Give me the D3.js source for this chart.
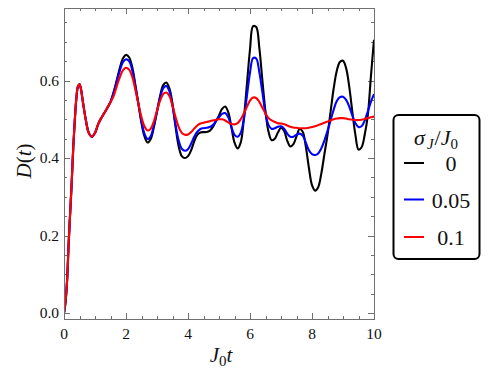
<!DOCTYPE html>
<html>
<head>
<meta charset="utf-8">
<script src="https://cdn.jsdelivr.net/npm/d3@7"></script>
<style>
  body { margin: 0; background: #fff; }
  svg { display: block; }
</style>
</head>
<body>
<svg width="493" height="376" font-family="'Liberation Serif', 'DejaVu Serif', serif"></svg>
<script>
// time grid J0 t
var times = [0, 0.05, 0.1, 0.15, 0.2, 0.25, 0.3, 0.35, 0.4, 0.45, 0.5, 0.55,
    0.6, 0.7, 0.8, 0.9, 1.0, 1.1, 1.2, 1.3, 1.4, 1.5, 1.6, 1.7, 1.8, 1.9,
    2.0, 2.1, 2.2, 2.3, 2.4, 2.5, 2.6, 2.7, 2.8, 2.9, 3.0, 3.1, 3.2, 3.3, 3.4,
    3.5, 3.6, 3.7, 3.8, 3.9, 4.0, 4.1, 4.2, 4.3, 4.4, 4.5, 4.6, 4.7, 4.8, 4.9,
    5.0, 5.1, 5.2, 5.3, 5.4, 5.5, 5.6, 5.7, 5.8, 5.9, 6.0, 6.1, 6.2, 6.3, 6.4,
    6.5, 6.6, 6.7, 6.8, 6.9, 7.0, 7.1, 7.2, 7.3, 7.4, 7.5, 7.6, 7.7, 7.8, 7.9,
    8.0, 8.1, 8.2, 8.3, 8.4, 8.5, 8.6, 8.7, 8.8, 8.9, 9.0, 9.1, 9.2, 9.3, 9.4,
    9.5, 9.6, 9.7, 9.8, 9.9, 10.0];

// sigma_J / J0 = 0
var dSigma0 = [0, 0.03, 0.085, 0.18, 0.26, 0.34, 0.43, 0.5, 0.555, 0.585, 0.59, 0.577,
    0.55, 0.5, 0.465, 0.455, 0.465, 0.487, 0.503, 0.516, 0.53, 0.545, 0.57, 0.6, 0.632, 0.657,
    0.666, 0.66, 0.635, 0.59, 0.54, 0.49, 0.455, 0.44, 0.45, 0.48, 0.52, 0.56, 0.588, 0.595, 0.58,
    0.54, 0.48, 0.43, 0.405, 0.4, 0.405, 0.42, 0.443, 0.46, 0.466, 0.467, 0.467, 0.47, 0.48, 0.495,
    0.51, 0.527, 0.533, 0.518, 0.48, 0.44, 0.425, 0.44, 0.5, 0.59, 0.68, 0.74, 0.738, 0.685, 0.6,
    0.52, 0.467, 0.446, 0.45, 0.466, 0.478, 0.47, 0.445, 0.43, 0.436, 0.456, 0.475, 0.468, 0.43, 0.375,
    0.33, 0.316, 0.325, 0.36, 0.41, 0.46, 0.52, 0.58, 0.625, 0.648, 0.651, 0.632, 0.585, 0.52, 0.46,
    0.422, 0.428, 0.46, 0.51, 0.61, 0.705];

// sigma_J / J0 = 0.05
var dSigma005 = [0, 0.03, 0.085, 0.18, 0.26, 0.34, 0.43, 0.5, 0.555, 0.585, 0.59, 0.577,
    0.55, 0.5, 0.465, 0.455, 0.465, 0.487, 0.503, 0.516, 0.53, 0.545, 0.568, 0.597, 0.625, 0.647,
    0.655, 0.65, 0.627, 0.585, 0.54, 0.495, 0.462, 0.449, 0.457, 0.485, 0.52, 0.556, 0.58, 0.586, 0.572,
    0.535, 0.485, 0.445, 0.424, 0.419, 0.423, 0.437, 0.455, 0.468, 0.475, 0.477, 0.478, 0.48, 0.485, 0.495,
    0.505, 0.514, 0.516, 0.505, 0.48, 0.46, 0.455, 0.465, 0.5, 0.56, 0.62, 0.658, 0.657, 0.622, 0.57,
    0.515, 0.485, 0.475, 0.477, 0.481, 0.482, 0.476, 0.463, 0.455, 0.455, 0.46, 0.463, 0.458, 0.44, 0.42,
    0.41, 0.408, 0.412, 0.425, 0.445, 0.47, 0.497, 0.525, 0.547, 0.557, 0.558, 0.55, 0.533, 0.51, 0.49,
    0.48, 0.482, 0.497, 0.52, 0.545, 0.565];

// sigma_J / J0 = 0.1
var dSigma01 = [0, 0.03, 0.085, 0.18, 0.26, 0.34, 0.43, 0.5, 0.555, 0.585, 0.59, 0.577,
    0.55, 0.5, 0.465, 0.455, 0.465, 0.487, 0.503, 0.516, 0.53, 0.544, 0.56, 0.585, 0.608, 0.626,
    0.633, 0.628, 0.61, 0.577, 0.54, 0.505, 0.481, 0.471, 0.476, 0.495, 0.522, 0.548, 0.565, 0.569, 0.56,
    0.535, 0.505, 0.48, 0.465, 0.46, 0.461, 0.467, 0.476, 0.484, 0.489, 0.491, 0.493, 0.495, 0.497, 0.499,
    0.5, 0.5, 0.497, 0.492, 0.488, 0.487, 0.49, 0.5, 0.515, 0.532, 0.548, 0.556, 0.555, 0.545, 0.53,
    0.515, 0.503, 0.497, 0.493, 0.49, 0.489, 0.487, 0.484, 0.481, 0.479, 0.478, 0.477, 0.477, 0.477, 0.478,
    0.48, 0.482, 0.485, 0.488, 0.491, 0.494, 0.497, 0.5, 0.502, 0.503, 0.503, 0.502, 0.5, 0.499, 0.498,
    0.498, 0.499, 0.501, 0.503, 0.505, 0.507];

var seriesNames = ["0", "0.05", "0.1"];
var seriesColors = ["#000000", "#0000ff", "#ff0000"];
var xTickLabels = [0, 2, 4, 6, 8, 10];
var yTickLabels = [0.0, 0.2, 0.4, 0.6];

var allSeries = [dSigma0, dSigma005, dSigma01];

var svg = d3.select("svg");

var plotLeft = 64, plotRight = 374, plotTop = 8, plotBottom = 319;

var x = d3.scaleLinear().domain([0, 10]).range([plotLeft, plotRight]);
var y = d3.scaleLinear().domain([-0.015, 0.787]).range([plotBottom, plotTop]);

var axisColor = "#707070";
var textColor = "#111";

// minor + major ticks, inward, on all four sides
var gTicks = svg.append("g").attr("stroke", axisColor).attr("stroke-width", 1);

d3.range(0, 10.001, 0.5).forEach(function (v) {
    var major = Math.abs(v / 2 - Math.round(v / 2)) < 1e-6;
    var len = major ? 6 : 3;
    var px = Math.round(x(v)) + 0.5;
    gTicks.append("line").attr("x1", px).attr("x2", px)
        .attr("y1", plotBottom).attr("y2", plotBottom - len);
    gTicks.append("line").attr("x1", px).attr("x2", px)
        .attr("y1", plotTop).attr("y2", plotTop + len);
});

d3.range(0, 0.78, 0.05).forEach(function (v) {
    var major = Math.abs(v / 0.2 - Math.round(v / 0.2)) < 1e-6;
    var len = major ? 6 : 3;
    var py = Math.round(y(v)) + 0.5;
    gTicks.append("line").attr("x1", plotLeft).attr("x2", plotLeft + len)
        .attr("y1", py).attr("y2", py);
    gTicks.append("line").attr("x1", plotRight).attr("x2", plotRight - len)
        .attr("y1", py).attr("y2", py);
});

// tick labels
svg.append("g").selectAll("text")
    .data(xTickLabels)
    .enter().append("text")
    .attr("x", function (d) { return x(d); })
    .attr("y", 339)
    .attr("text-anchor", "middle")
    .attr("fill", textColor)
    .style("font-size", "15.5px")
    .text(function (d) { return d; });

svg.append("g").selectAll("text")
    .data(yTickLabels)
    .enter().append("text")
    .attr("x", 59)
    .attr("y", function (d) { return y(d) + 5; })
    .attr("text-anchor", "end")
    .attr("fill", textColor)
    .style("font-size", "15.5px")
    .text(function (d) { return d.toFixed(1); });

// curves
var line = d3.line()
    .x(function (d, i) { return x(times[i]); })
    .y(function (d) { return y(d); })
    .curve(d3.curveCatmullRom.alpha(0.5));

var gLines = svg.append("g");
gLines.append("clipPath").attr("id", "clip")
    .append("rect")
    .attr("x", plotLeft).attr("y", plotTop)
    .attr("width", plotRight - plotLeft).attr("height", plotBottom - plotTop);

gLines.selectAll("path")
    .data(allSeries)
    .enter().append("path")
    .attr("clip-path", "url(#clip)")
    .attr("d", line)
    .attr("fill", "none")
    .attr("stroke", function (d, i) { return seriesColors[i]; })
    .attr("stroke-width", 2.1)
    .attr("stroke-linejoin", "round");

// frame
svg.append("rect")
    .attr("x", plotLeft + 0.5).attr("y", plotTop + 0.5)
    .attr("width", plotRight - plotLeft).attr("height", plotBottom - plotTop)
    .attr("fill", "none")
    .attr("stroke", axisColor)
    .attr("stroke-width", 1);

// axis labels
var xLab = svg.append("text")
    .attr("x", 221).attr("y", 362)
    .attr("text-anchor", "middle")
    .attr("fill", textColor)
    .style("font-size", "21px")
    .style("font-style", "italic");
xLab.append("tspan").text("J");
xLab.append("tspan").attr("dy", 4).style("font-size", "15px").style("font-style", "normal").text("0");
xLab.append("tspan").attr("dy", -4).text("t");

svg.append("text")
    .attr("transform", "translate(31,161) rotate(-90)")
    .attr("text-anchor", "middle")
    .attr("fill", textColor)
    .style("font-size", "21px")
    .html('<tspan font-style="italic">D</tspan>(<tspan font-style="italic">t</tspan>)');

// legend
var gLeg = svg.append("g");
gLeg.append("rect")
    .attr("x", 393.5).attr("y", 115)
    .attr("width", 86).attr("height", 144)
    .attr("rx", 5)
    .attr("fill", "#fff")
    .attr("stroke", "#000")
    .attr("stroke-width", 2);

var title = gLeg.append("text")
    .attr("x", 436).attr("y", 145)
    .attr("text-anchor", "middle")
    .attr("fill", textColor)
    .style("font-size", "22px");
title.append("tspan").style("font-style", "italic").text("σ");
title.append("tspan").attr("dy", 4).attr("dx", 2).style("font-size", "15px").style("font-style", "italic").text("J");
title.append("tspan").attr("dy", -4).attr("dx", 1).text("/");
title.append("tspan").style("font-style", "italic").text("J");
title.append("tspan").attr("dy", 4).style("font-size", "15px").text("0");

var legY = [163, 199.5, 237];
seriesNames.forEach(function (name, i) {
    gLeg.append("line")
        .attr("x1", 404).attr("x2", 424)
        .attr("y1", legY[i]).attr("y2", legY[i])
        .attr("stroke", seriesColors[i])
        .attr("stroke-width", 2);
    gLeg.append("text")
        .attr("x", 451).attr("y", legY[i] + 8)
        .attr("text-anchor", "middle")
        .attr("fill", textColor)
        .style("font-size", "22px")
        .text(name);
});
</script>
</body>
</html>
